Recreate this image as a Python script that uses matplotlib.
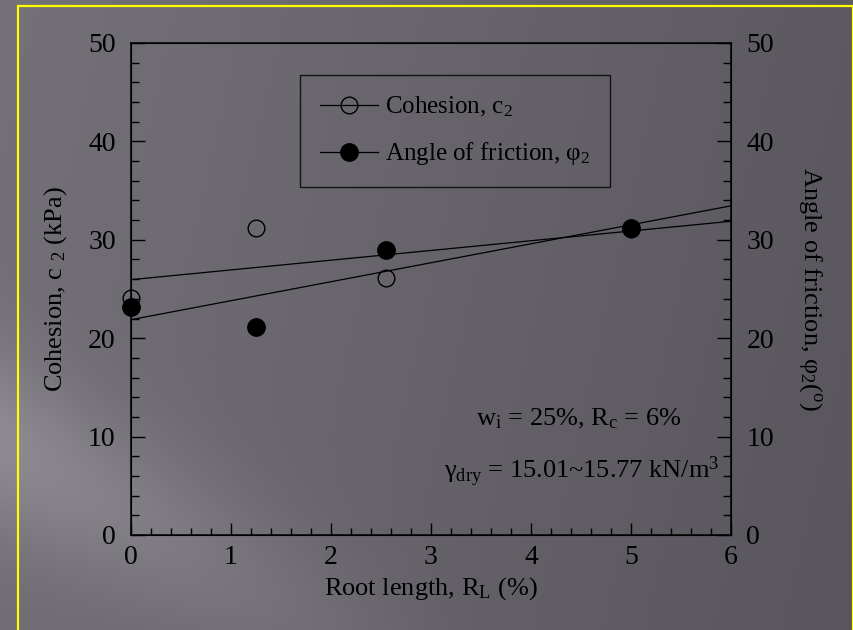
"""
Cohesion and friction angle vs. root length, with least-squares fits.
"""

import matplotlib.pyplot as plt
import numpy as np
from matplotlib.lines import Line2D
from matplotlib.patches import Rectangle

plt.rcParams['font.family'] = ['Liberation Serif', 'DejaVu Serif']
plt.rcParams['mathtext.fontset'] = 'custom'
plt.rcParams['mathtext.rm'] = 'Liberation Serif'
plt.rcParams['mathtext.it'] = 'Liberation Serif'
plt.rcParams['mathtext.default'] = 'rm'

# measured values
root_length = [0.0, 1.25, 2.55, 5.0]
cohesion = [24.1, 31.2, 26.1, 31.1]
friction = [23.2, 21.1, 29.0, 31.2]
fit_x = [0.0, 6.0]

W, H = 854, 630
fig = plt.figure(figsize=(W / 100, H / 100), dpi=100)

# slide background: grey, darker to the right, with a pale diagonal streak
bg = fig.add_axes([0, 0, 1, 1], zorder=-10)
yy, xx = np.mgrid[0:H, 0:W].astype(float)
base = 116 - 24 * (xx / W) - 4 * (yy / H)
d = ((xx - 0) * 190 - (yy - 440) * 340) / np.hypot(190, 340)
streak = 28 * np.exp(-(d / 80) ** 2) * np.clip(1 - xx / 480, 0, 1)
img = np.stack([base + streak, base - 3 + streak, base + 4 + streak], axis=-1)
bg.imshow(np.clip(img, 0, 255).astype(np.uint8), aspect='auto', interpolation='bilinear')
bg.set_axis_off()
fig.add_artist(Rectangle((18 / W, -0.1), (W - 19) / W, (H - 6) / H + 0.1,
                         transform=fig.transFigure, fill=False,
                         edgecolor='#ffff00', linewidth=1.6))

ax = fig.add_axes([131 / W, 95 / H, 600 / W, 492 / H])
ax.patch.set_alpha(0)

fs_tick = 20
fs_lab = 19

c_fit = np.polyfit(root_length, cohesion, 1)
f_fit = np.polyfit(root_length, friction, 1)
ax.plot(fit_x, np.polyval(c_fit, fit_x), color='black', lw=0.9, zorder=2)
ax.plot(fit_x, np.polyval(f_fit, fit_x), color='black', lw=0.9, zorder=2)

ax.plot(root_length, cohesion, 'o', ms=12, mfc='none', mec='black', mew=1.0,
        zorder=3, clip_on=False)
ax.plot(root_length, friction, 'o', ms=12.5, mfc='black', mec='black',
        zorder=4, clip_on=False)

ax.set_xlim(0, 6)
ax.set_ylim(0, 50)
ax.set_xticks(range(0, 7))
ax.set_xticks(np.arange(0, 6.01, 0.2), minor=True)
ax.set_yticks(range(0, 51, 10))
ax.set_yticks(range(0, 51, 2), minor=True)
ax.tick_params(which='both', direction='in', top=False, right=False,
               labelsize=fs_tick, width=1.0)
ax.tick_params(axis='x', which='major', length=9, pad=7)
ax.tick_params(axis='x', which='minor', length=5)
ax.tick_params(axis='y', which='major', length=10, pad=11)
ax.tick_params(axis='y', which='minor', length=6)
for s in ax.spines.values():
    s.set_linewidth(1.1)

ax2 = ax.twinx()
ax2.set_ylim(0, 50)
ax2.set_yticks(range(0, 51, 10))
ax2.set_yticks(range(0, 51, 2), minor=True)
ax2.tick_params(which='both', direction='in', labelsize=fs_tick, width=1.0)
ax2.tick_params(which='major', length=10, pad=11)
ax2.tick_params(which='minor', length=6)

ax.set_xlabel('Root length, R$_{L}$ (%)', fontsize=fs_lab, labelpad=4)
ax.set_ylabel('Cohesion, c $_{2}$ (kPa)', fontsize=fs_lab, labelpad=14)
ax2.set_ylabel('Angle of friction, φ$_{2}$($^{o}$)', fontsize=fs_lab,
               rotation=-90, labelpad=36)

ax.text(0.747, 0.235, 'w$_{i}$ = 25%, R$_{c}$ = 6%', transform=ax.transAxes,
        ha='center', va='center', fontsize=fs_lab)
ax.text(0.752, 0.128, 'γ$_{dry}$ = 15.01~15.77 kN/m$^{3}$', transform=ax.transAxes,
        ha='center', va='center', fontsize=fs_lab)

handles = [
    Line2D([], [], color='black', lw=0.9, marker='o', ms=12, mfc='none', mec='black'),
    Line2D([], [], color='black', lw=0.9, marker='o', ms=12.5, mfc='black', mec='black'),
]
leg = ax.legend(handles, ['Cohesion, c$_{2}$', 'Angle of friction, φ$_{2}$'],
                loc='upper left', bbox_to_anchor=(0.282, 0.935), borderaxespad=0,
                fontsize=18, frameon=True, fancybox=False, edgecolor='black',
                handlelength=2.3, borderpad=0.8, labelspacing=0.85,
                handletextpad=0.3)
leg.get_frame().set_facecolor('none')
leg.get_frame().set_linewidth(1.0)

fig.savefig('out.png', dpi=100)
